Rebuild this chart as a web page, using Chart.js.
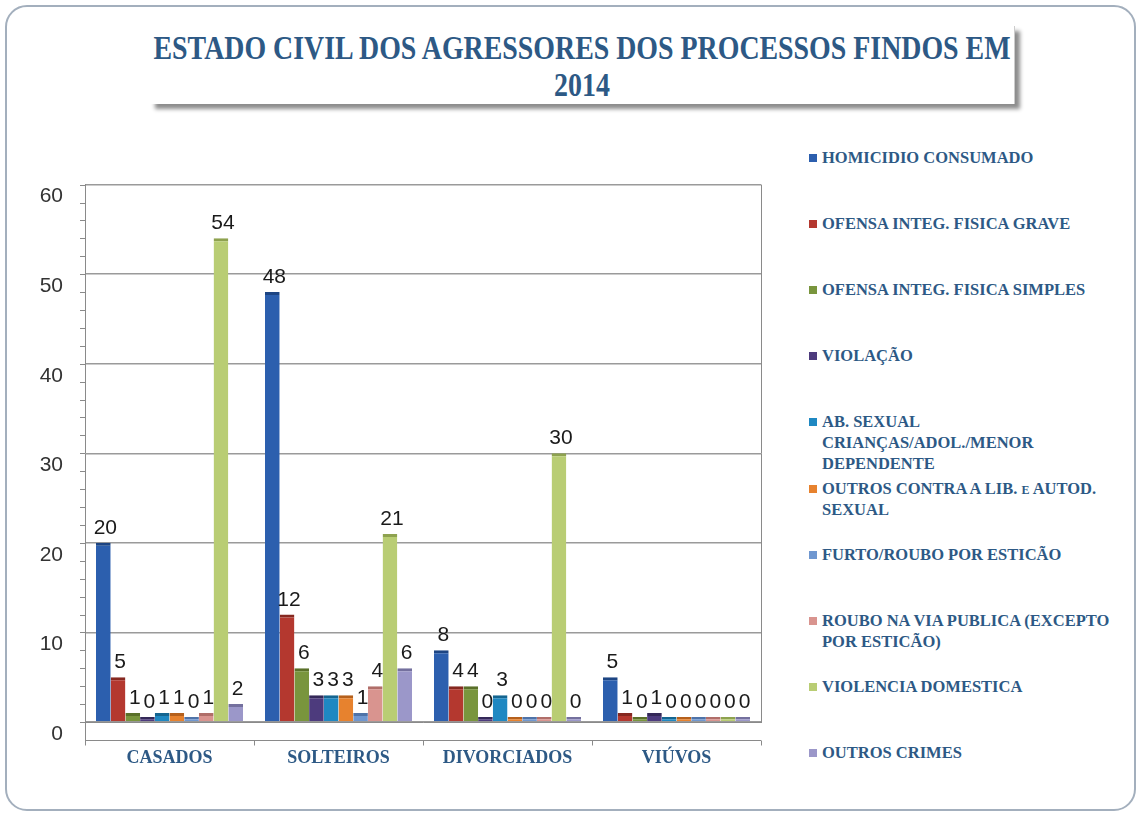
<!DOCTYPE html>
<html>
<head>
<meta charset="utf-8">
<script src="https://cdn.jsdelivr.net/npm/chart.js@4/dist/chart.umd.min.js"></script>
<style>
  html, body { margin:0; padding:0; background:#fff; }
  body { width:1143px; height:820px; position:relative; overflow:hidden; }
  #frame { position:absolute; left:5px; top:5px; width:1131px; height:806px; border:2px solid #a3afbd; border-radius:22px; box-sizing:border-box; }
  #titlebox { position:absolute; left:150px; top:26px; width:864px; height:78px; background:#fff; box-shadow:5px 5px 4px rgba(0,0,0,0.45); border-right:1px solid #ccc; }
  .tl { position:absolute; left:50%; font-family:"Liberation Serif", serif; font-weight:bold; color:#2d5985; font-size:34px; line-height:39px; white-space:nowrap; transform-origin:center; }
  #wrap { position:absolute; left:0; top:150px; width:780px; height:640px; }
  #legend { position:absolute; left:808px; top:0; width:330px; }
  .li { position:absolute; left:0; font-family:"Liberation Serif", serif; font-weight:bold; font-size:16.5px; color:#2d5985; line-height:21px; white-space:nowrap; font-variant:small-caps; }
  .sw { position:absolute; left:1px; top:7px; width:8px; height:8px; }
  .tx { position:absolute; left:14px; top:0; }
</style>
</head>
<body>
<div id="frame"></div>
<div id="titlebox">
  <div class="tl" id="t1" style="top:2px">ESTADO CIVIL DOS AGRESSORES DOS PROCESSOS FINDOS EM</div>
  <div class="tl" id="t2" style="top:39px">2014</div>
</div>
<div id="wrap"><canvas id="c" width="780" height="640"></canvas></div>
<div id="legend"></div>
<script>
// ---- data ----
const categories = ["CASADOS", "SOLTEIROS", "DIVORCIADOS", "VIÚVOS"];
const seriesNames = [
  ["HOMICIDIO CONSUMADO"],
  ["OFENSA INTEG. FISICA GRAVE"],
  ["OFENSA INTEG. FISICA SIMPLES"],
  ["VIOLAÇÃO"],
  ["AB. SEXUAL", "CRIANÇAS/ADOL./MENOR", "DEPENDENTE"],
  ["OUTROS CONTRA A LIB. e AUTOD.", "SEXUAL"],
  ["FURTO/ROUBO POR ESTICÃO"],
  ["ROUBO NA VIA PUBLICA (EXCEPTO", "POR ESTICÃO)"],
  ["VIOLENCIA DOMESTICA"],
  ["OUTROS CRIMES"]
];
const homicidio      = [20, 48, 8, 5];
const ofensaGrave    = [5, 12, 4, 1];
const ofensaSimples  = [1, 6, 4, 0];
const violacao       = [0, 3, 0, 1];
const abSexual       = [1, 3, 3, 0];
const outrosSexual   = [1, 3, 0, 0];
const furtoEsticao   = [0, 1, 0, 0];
const rouboViaPub    = [1, 4, 0, 0];
const violDomestica  = [54, 21, 30, 0];
const outrosCrimes   = [2, 6, 0, 0];
const seriesValues = [homicidio, ofensaGrave, ofensaSimples, violacao, abSexual, outrosSexual, furtoEsticao, rouboViaPub, violDomestica, outrosCrimes];
const yTicks = [0, 10, 20, 30, 40, 50, 60];

// ---- styles ----
const colors = ["#2c5fae", "#b4382f", "#79953d", "#4d3b7d", "#1f88c2", "#e7822e", "#6f97d0", "#d9948f", "#b9cd74", "#9b97c9"];
const tops   = ["#1d4583", "#862820", "#5a7029", "#342858", "#146590", "#b5601c", "#4f73a8", "#b06e69", "#8ea24f", "#74709e"];

// title fit
(function(){
  const t1 = document.getElementById('t1');
  const w = t1.getBoundingClientRect().width;
  const s = 857 / w;
  ['t1', 't2'].forEach(id => {
    document.getElementById(id).style.transform = 'translateX(-50%) scaleX(' + s + ')';
  });
})();

// legend (HTML)
const leg = document.getElementById('legend');
seriesNames.forEach((lines, i) => {
  const d = document.createElement('div');
  d.className = 'li';
  d.style.top = (158 - 11 + i * 66.1) + 'px';
  const sw = document.createElement('div');
  sw.className = 'sw'; sw.style.background = colors[i];
  const tx = document.createElement('div');
  tx.className = 'tx';
  tx.innerHTML = lines.join('<br>');
  d.appendChild(sw); d.appendChild(tx);
  leg.appendChild(d);
});

const labelPlugin = {
  id: 'vlabels',
  afterDatasetsDraw(chart) {
    const ctx = chart.ctx;
    ctx.save();
    ctx.font = '21px "Liberation Sans", Arial, sans-serif';
    ctx.fillStyle = '#1a1a1a';
    ctx.textAlign = 'center';
    ctx.textBaseline = 'alphabetic';
    chart.data.datasets.forEach((ds, di) => {
      const meta = chart.getDatasetMeta(di);
      meta.data.forEach((bar, i) => {
        ctx.fillText(String(ds.data[i]), bar.x + 2, bar.y - 9);
      });
    });
    ctx.restore();
  }
};

const axisDeco = {
  id: 'axisDeco',
  beforeDatasetsDraw(chart) {
    const ctx = chart.ctx, a = chart.chartArea, y = chart.scales.y;
    ctx.save();
    ctx.strokeStyle = '#8a8a8a';
    ctx.lineWidth = 1;
    for (let v = 0; v <= 60; v += 2) {
      const py = Math.round(y.getPixelForValue(v)) + 0.5;
      ctx.beginPath(); ctx.moveTo(a.left - 5, py); ctx.lineTo(a.left, py); ctx.stroke();
    }
    const fy = a.bottom + 18.5;
    ctx.beginPath(); ctx.moveTo(a.left, fy); ctx.lineTo(a.right, fy); ctx.stroke();
    const n = categories.length;
    for (let k = 0; k <= n; k++) {
      const px = Math.round(a.left + (a.right - a.left) * k / n) + 0.5;
      ctx.beginPath(); ctx.moveTo(px, fy); ctx.lineTo(px, fy + 5); ctx.stroke();
    }
    ctx.beginPath(); ctx.moveTo(a.left + 0.5, a.bottom); ctx.lineTo(a.left + 0.5, fy); ctx.stroke();
    ctx.beginPath(); ctx.moveTo(a.right + 0.5, a.top); ctx.lineTo(a.right + 0.5, a.bottom); ctx.stroke();
    ctx.restore();
  }
};

new Chart(document.getElementById('c'), {
  type: 'bar',
  data: {
    labels: categories,
    datasets: seriesValues.map((vals, i) => ({
      label: seriesNames[i].join(' '),
      data: vals,
      backgroundColor: colors[i],
      borderColor: tops[i],
      borderWidth: { top: 3, left: 0, right: 0, bottom: 0 },
      borderSkipped: 'bottom',
      minBarLength: 5
    }))
  },
  options: {
    responsive: false,
    animation: false,
    layout: { padding: { top: 28, right: 19, left: 0, bottom: 0 } },
    plugins: { legend: { display: false }, tooltip: { enabled: false } },
    datasets: { bar: { categoryPercentage: 0.87, barPercentage: 1.0 } },
    scales: {
      x: {
        grid: { display: false, drawTicks: false },
        border: { display: true, color: '#8a8a8a', width: 1 },
        ticks: { padding: 26, color: '#2d5985', font: { family: '"Liberation Serif", serif', weight: 'bold', size: 18 } },
        afterFit(s) { s.height = 68; }
      },
      y: {
        min: 0, max: 60,
        afterBuildTicks(s) { s.ticks = yTicks.map(v => ({ value: v })); },
        grid: { color: '#9a9a9a', lineWidth: 1.5, drawTicks: false },
        border: { display: true, color: '#8a8a8a', width: 1 },
        ticks: { padding: 22, labelOffset: 12, color: '#333', font: { family: '"Liberation Sans", Arial, sans-serif', size: 21 } },
        afterFit(s) { s.width = 85; }
      }
    }
  },
  plugins: [axisDeco, labelPlugin]
});
</script>
</body>
</html>
